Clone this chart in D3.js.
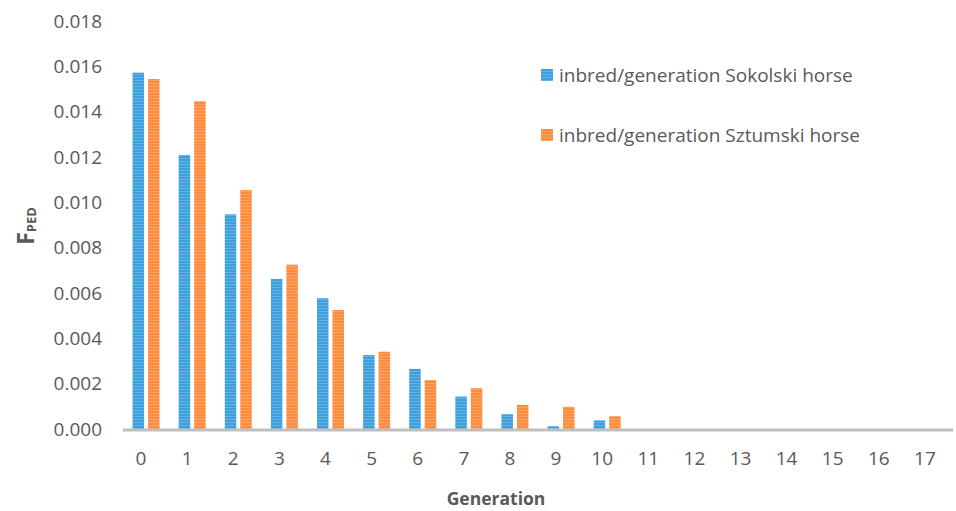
<!DOCTYPE html>
<html><head><meta charset="utf-8">
<script src="https://cdn.jsdelivr.net/npm/d3@7"></script>
<style>body{margin:0;background:#fff}svg{display:block}</style>
</head><body>
<script>
const generations = ["0","1","2","3","4","5","6","7","8","9","10","11","12","13","14","15","16","17"];
const sokolski = [0.01572,0.01209,0.00947,0.00662,0.00577,0.00326,0.00265,0.00143,0.00065,0.00012,0.00038,0,0,0,0,0,0,0];
const sztumski = [0.01544,0.01446,0.01054,0.00725,0.00525,0.00341,0.00216,0.00180,0.00106,0.00098,0.00057,0,0,0,0,0,0,0];
const seriesNames = ["inbred/generation Sokolski horse","inbred/generation Sztumski horse"];
const yTicks = [0,0.002,0.004,0.006,0.008,0.010,0.012,0.014,0.016,0.018];

const W=956,H=511;
const colors=["#3d9fdc","#fd8d3e"];
const light=["#7fc0ea","#ffb37f"];
const svg=d3.select("body").append("svg").attr("width",W).attr("height",H);
const defs=svg.append("defs");
colors.forEach((c,i)=>{
  const p=defs.append("pattern").attr("id","pat"+i).attr("patternUnits","userSpaceOnUse")
    .attr("width",8).attr("height",3);
  p.append("rect").attr("width",8).attr("height",3).attr("fill",c);
  p.append("rect").attr("y",2).attr("width",8).attr("height",1).attr("fill",light[i]).attr("opacity",0.6);
});
const font="'Open Sans', sans-serif";
const x=d3.scaleBand().domain(generations).range([123,953]);
const y=d3.scaleLinear().domain([0,0.018]).range([429,21]);

// y tick labels
svg.append("g").selectAll("text").data(yTicks).join("text")
  .attr("x",102).attr("y",d=>y(d)).attr("dy","0.35em").attr("text-anchor","end")
  .attr("font-family",font).attr("font-size",19).attr("fill","#595959")
  .text(d=>d3.format(".3f")(d));

// bars
const bw=11.5, gap=4;
const data=[sokolski,sztumski];
data.forEach((vals,si)=>{
  svg.append("g").selectAll("rect").data(vals.map((v,i)=>({g:generations[i],v}))).join("rect")
    .attr("x",d=>x(d.g)+x.bandwidth()/2 + (si===0 ? -gap/2-bw : gap/2))
    .attr("y",d=>y(d.v)).attr("width",bw).attr("height",d=>y(0)-y(d.v))
    .attr("fill",`url(#pat${si})`);
});

// x axis line
svg.append("line").attr("x1",x.range()[0]).attr("x2",x.range()[1]).attr("y1",y(0)+1).attr("y2",y(0)+1)
  .attr("stroke","#bfbfbf").attr("stroke-width",3);

// x tick labels
svg.append("g").selectAll("text").data(generations).join("text")
  .attr("x",d=>x(d)+x.bandwidth()/2-5).attr("y",465).attr("text-anchor","middle")
  .attr("font-family",font).attr("font-size",19).attr("fill","#595959").text(d=>d);

// x title
svg.append("text").attr("x",496).attr("y",505).attr("text-anchor","middle")
  .attr("font-family",font).attr("font-size",17.5).attr("font-weight","bold").attr("fill","#595959")
  .text("Generation");

// y title
const yt=svg.append("text").attr("transform","translate(34,226) rotate(-90)").attr("text-anchor","middle")
  .attr("font-family",font).attr("font-weight","bold").attr("fill","#595959");
yt.append("tspan").attr("font-size",23).text("F");
yt.append("tspan").attr("font-size",13).attr("dy",2).text("PED");

// legend
const lg=svg.append("g");
seriesNames.forEach((n,i)=>{
  const ly=75+i*60;
  lg.append("rect").attr("x",541).attr("y",ly-6).attr("width",12).attr("height",12).attr("fill",`url(#pat${i})`);
  lg.append("text").attr("x",559).attr("y",ly).attr("dy","0.35em")
    .attr("font-family",font).attr("font-size",19).attr("fill","#595959").text(n);
});
</script>
</body></html>
